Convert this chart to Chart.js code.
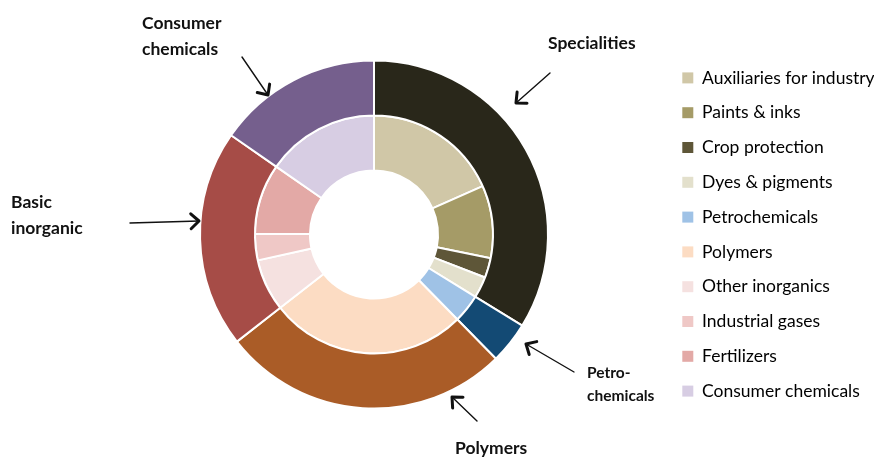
<!DOCTYPE html>
<html>
<head>
<meta charset="utf-8">
<script src="https://cdn.jsdelivr.net/npm/chart.js@4.4.1/dist/chart.umd.min.js"></script>
<style>
  html, body { margin: 0; padding: 0; background: #fff; }
  #wrap { width: 874px; height: 457px; position: relative; }
</style>
</head>
<body>
<div id="wrap"><canvas id="myChart"></canvas></div>
<script>
// --- Data (shares in %) ---
const groups = ['Specialities', 'Petrochemicals', 'Polymers', 'Basic inorganic', 'Consumer chemicals'];
const groupShares = [33.9, 3.9, 26.9, 20.3, 15.4];
const groupColors = ['#29271a', '#134a74', '#aa5c27', '#a64c47', '#755f8d'];

const segments = ['Auxiliaries for industry', 'Paints & inks', 'Crop protection', 'Dyes & pigments',
  'Petrochemicals', 'Polymers', 'Other inorganics', 'Industrial gases', 'Fertilizers', 'Consumer chemicals'];
const segmentShares = [18.4, 9.9, 2.7, 2.9, 3.9, 26.9, 7.1, 3.6, 9.6, 15.4];
const segmentColors = ['#d0c7a7', '#a59b67', '#5e5638', '#e3e0cc', '#9fc2e6',
  '#fcdcc3', '#f5e1e0', '#efc8c6', '#e3a9a6', '#d7cde3'];

// callout labels for the outer ring (offsets from the doughnut centre)
const callouts = [
  { lines: ['Specialities'], size: 17.5, lh: 26, tx: 174, ty: -191.5, from: [176, -161.5], to: [142, -131.5] },
  { lines: ['Consumer', 'chemicals'], size: 17.5, lh: 26, tx: -232, ty: -211.5, from: [-132, -177.5], to: [-106, -139.5] },
  { lines: ['Basic', 'inorganic'], size: 17.5, lh: 26, tx: -363, ty: -32.5, from: [-244, -11.5], to: [-175, -13.5] },
  { lines: ['Petro-', 'chemicals'], size: 15.5, lh: 23, tx: 213, ty: 138.5, from: [200, 137.5], to: [152, 109.5] },
  { lines: ['Polymers'], size: 17.5, lh: 26, tx: 81, ty: 213.5, from: [103, 186.5], to: [78, 162.5] }
];

const FONT = 'Lato, "Open Sans", sans-serif';

// --- Callout plugin: bold labels + arrows ---
const calloutPlugin = {
  id: 'callouts',
  afterDraw(chart) {
    const arc = chart.getDatasetMeta(0).data[0];
    if (!arc) return;
    const cx = arc.x, cy = arc.y;
    const c = chart.ctx;
    c.save();
    c.fillStyle = '#111';
    c.strokeStyle = '#111';
    c.textBaseline = 'middle';
    c.textAlign = 'left';
    callouts.forEach(a => {
      c.font = 'bold ' + a.size + 'px ' + FONT;
      a.lines.forEach((t, i) => c.fillText(t, cx + a.tx, cy + a.ty + i * a.lh));

      const x1 = cx + a.from[0], y1 = cy + a.from[1];
      const x2 = cx + a.to[0], y2 = cy + a.to[1];
      c.lineWidth = 1.4;
      c.lineCap = 'round';
      c.beginPath();
      c.moveTo(x1, y1);
      c.lineTo(x2, y2);
      c.stroke();

      const ang = Math.atan2(y2 - y1, x2 - x1);
      const len = 11, spread = Math.PI / 4.2;
      c.lineWidth = 3;
      c.lineJoin = 'round';
      c.beginPath();
      c.moveTo(x2 - len * Math.cos(ang - spread), y2 - len * Math.sin(ang - spread));
      c.lineTo(x2, y2);
      c.lineTo(x2 - len * Math.cos(ang + spread), y2 - len * Math.sin(ang + spread));
      c.stroke();
    });
    c.restore();
  }
};

// --- Chart ---
const ctx = document.getElementById('myChart').getContext('2d');

const chart = new Chart(ctx, {
  type: 'doughnut',
  data: {
    labels: segments,
    datasets: [
      {
        label: 'Sector',
        data: groupShares,
        backgroundColor: groupColors,
        borderColor: '#fff',
        borderWidth: 2
      },
      {
        label: 'Segment',
        data: segmentShares,
        backgroundColor: segmentColors,
        borderColor: '#fff',
        borderWidth: 2
      }
    ]
  },
  options: {
    responsive: true,
    maintainAspectRatio: false,
    animation: false,
    radius: 174,
    cutout: '36.8%',
    layout: { padding: { left: 83, top: 12, right: 0, bottom: 0 } },
    plugins: {
      tooltip: { enabled: false },
      legend: {
        position: 'right',
        maxWidth: 209,
        labels: {
          boxWidth: 11,
          boxHeight: 11,
          padding: 17.3,
          color: '#222',
          font: { family: FONT, size: 17.5 },
          generateLabels: () => segments.map((s, i) => ({
            text: s,
            fillStyle: segmentColors[i],
            strokeStyle: segmentColors[i],
            lineWidth: 0,
            hidden: false,
            index: i
          }))
        }
      }
    }
  },
  plugins: [calloutPlugin]
});
</script>
</body>
</html>
